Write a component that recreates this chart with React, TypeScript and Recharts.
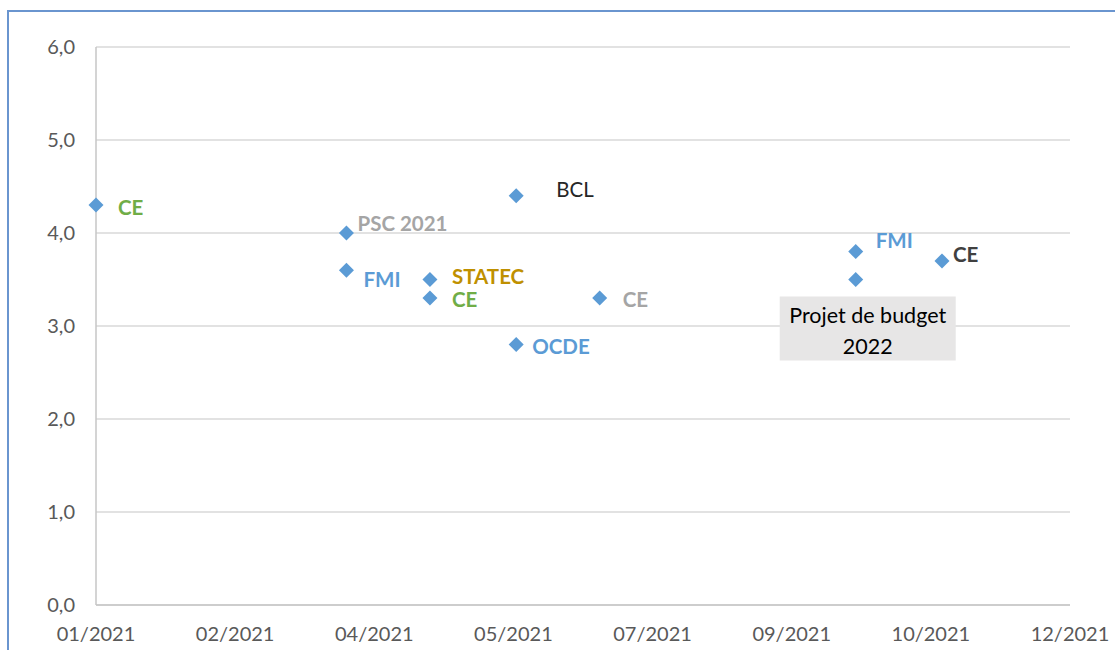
import React from 'react'
import { ScatterChart, Scatter, XAxis, YAxis, CartesianGrid } from 'recharts'

// forecast publication dates, values (%) and source of each forecast
const forecastDates = ['2021-01-01', '2021-04-01', '2021-04-01', '2021-05-01', '2021-05-01', '2021-06-01', '2021-06-01', '2021-07-01', '2021-10-01', '2021-10-01', '2021-11-01']
const growthValues = [4.3, 4.0, 3.6, 3.5, 3.3, 4.4, 2.8, 3.3, 3.8, 3.5, 3.7]
const sources = ['CE', 'PSC 2021', 'FMI', 'STATEC', 'CE', 'BCL', 'OCDE', 'CE', 'FMI', 'Projet de budget 2022', 'CE']

// axis ticks: days since 01/01/2021 (Excel date axis, major unit 50 days)
const xTickDays = [0, 50, 100, 150, 200, 250, 300, 350]
const yTicks = [0, 1, 2, 3, 4, 5, 6]

const START = Date.UTC(2021, 0, 1)
const DAY = 86400000

const toDays = (iso: string) => Math.round((Date.parse(iso + 'T00:00:00Z') - START) / DAY)

const formatMonth = (d: number) => {
  const dt = new Date(START + d * DAY)
  const m = String(dt.getUTCMonth() + 1).padStart(2, '0')
  return `${m}/${dt.getUTCFullYear()}`
}

const points = forecastDates.map((d, i) => ({
  x: toDays(d),
  y: growthValues[i],
  source: sources[i],
  idx: i,
}))

// label look per point: colour, weight, offset from the marker
const labelLook = [
  { color: '#70AD47', bold: true, dx: 22, dy: 2 },
  { color: '#A5A5A5', bold: true, dx: 11, dy: -10 },
  { color: '#5B9BD5', bold: true, dx: 17, dy: 9 },
  { color: '#BF9000', bold: true, dx: 22, dy: -4 },
  { color: '#70AD47', bold: true, dx: 22, dy: 1 },
  { color: '#262626', bold: false, dx: 40, dy: -7 },
  { color: '#5B9BD5', bold: true, dx: 16, dy: 1 },
  { color: '#A5A5A5', bold: true, dx: 23, dy: 1 },
  { color: '#5B9BD5', bold: true, dx: 20, dy: -12 },
  { color: '#000000', bold: false, dx: 0, dy: 0, box: true },
  { color: '#404040', bold: true, dx: 11, dy: -7 },
]

const FONT = 'Lato, "Open Sans", sans-serif'

const Marker = (props: any) => {
  const { cx, cy, payload } = props
  const look: any = labelLook[payload.idx]
  const r = 7.5
  const diamond = (
    <polygon
      points={`${cx},${cy - r} ${cx + r},${cy} ${cx},${cy + r} ${cx - r},${cy}`}
      fill="#5B9BD5"
    />
  )
  if (look.box) {
    const words = payload.source.split(' ')
    const line1 = words.slice(0, -1).join(' ')
    const line2 = words[words.length - 1]
    const bx = cx - 76
    const by = cy + 17
    return (
      <g>
        {diamond}
        <rect x={bx} y={by} width={176} height={64} fill="#E7E6E6" />
        <text x={bx + 88} y={by + 18} textAnchor="middle" dominantBaseline="central" fontSize={21.5} fontFamily={FONT} fill={look.color}>
          {line1}
        </text>
        <text x={bx + 88} y={by + 49} textAnchor="middle" dominantBaseline="central" fontSize={21.5} fontFamily={FONT} fill={look.color}>
          {line2}
        </text>
      </g>
    )
  }
  return (
    <g>
      {diamond}
      <text
        x={cx + look.dx}
        y={cy + look.dy}
        dominantBaseline="central"
        fontSize={20.5}
        fontWeight={look.bold ? 'bold' : 'normal'}
        fontFamily={FONT}
        fill={look.color}
      >
        {payload.source}
      </text>
    </g>
  )
}

export default function App() {
  return (
    <div style={{ position: 'fixed', left: 0, top: 0, width: 1115, height: 650, overflow: 'hidden', background: '#fff' }}>
      <div
        style={{
          position: 'absolute',
          left: 7,
          top: 10,
          width: 1200,
          height: 700,
          borderLeft: '2px solid #6A95CF',
          borderTop: '2px solid #6A95CF',
        }}
      />
      <div style={{ position: 'absolute', left: 0, top: 0 }}>
        <ScatterChart width={1115} height={650} margin={{ top: 47, right: 45, bottom: 0, left: 0 }}>
          <CartesianGrid vertical={false} stroke="#D9D9D9" strokeWidth={1.5} />
          <XAxis
            type="number"
            dataKey="x"
            domain={[0, 350]}
            ticks={xTickDays}
            tickFormatter={formatMonth}
            height={45}
            tickLine={false}
            axisLine={{ stroke: '#C6C6C6', strokeWidth: 1.5 }}
            tickMargin={16}
            tick={{ fill: '#595959', fontSize: 20, fontFamily: FONT }}
            interval={0}
          />
          <YAxis
            type="number"
            dataKey="y"
            domain={[0, 6]}
            ticks={yTicks}
            tickFormatter={(v: number) => v.toFixed(1).replace('.', ',')}
            width={96}
            tickLine={false}
            axisLine={{ stroke: '#C6C6C6', strokeWidth: 1.5 }}
            tickMargin={15}
            tick={{ fill: '#595959', fontSize: 20, fontFamily: FONT }}
            interval={0}
          />
          <Scatter data={points} shape={<Marker />} isAnimationActive={false} />
        </ScatterChart>
      </div>
    </div>
  )
}
